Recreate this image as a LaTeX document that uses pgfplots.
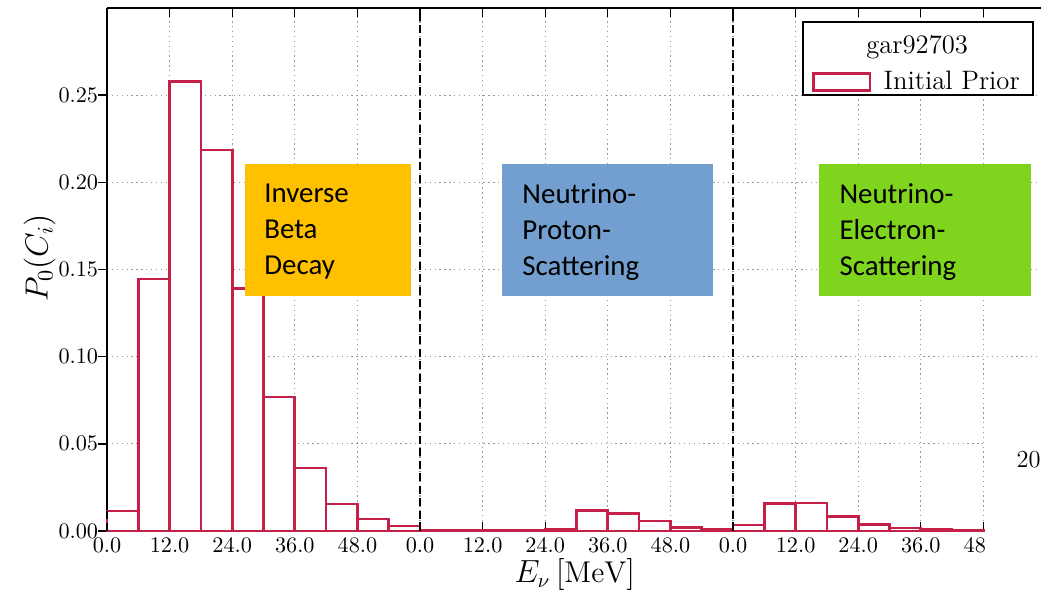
\documentclass[border=0pt]{standalone}
\usepackage{fontspec}
\usepackage{pgfplots}
\pgfplotsset{compat=1.18}
\newfontfamily\calibri{Carlito}
\definecolor{barred}{RGB}{197,32,72}
\definecolor{ibdorange}{RGB}{255,192,0}
\definecolor{npblue}{RGB}{114,159,207}
\definecolor{negreen}{RGB}{127,212,30}
\definecolor{gridgray}{RGB}{150,150,150}
\begin{document}
\begin{tikzpicture}
\begin{axis}[
  scale only axis, width=420.3pt, height=235.35pt,
  xmin=0, xmax=179.04, ymin=0, ymax=0.30,
  clip=false,
  axis y line*=left,
  axis line style={black, line width=0.8pt},
  every axis y label/.style={at={(axis description cs:-0.072,0.522)}, rotate=90, anchor=center, font=\fontsize{14}{16}\selectfont},
  every axis x label/.style={at={(axis description cs:0.501,-0.084)}, anchor=center, font=\fontsize{13.5}{16}\selectfont},
  xlabel={$E_\nu\,[\mathrm{MeV}]$},
  ylabel={$P_0(C_i)$},
  xtick={0,12,24,36,48,60,72,84,96,108,120,132,144,156,168},
  xticklabels={0.0,12.0,24.0,36.0,48.0,0.0,12.0,24.0,36.0,48.0,0.0,12.0,24.0,36.0,48.0},
  ytick={0,0.05,0.10,0.15,0.20,0.25},
  yticklabel style={/pgf/number format/.cd, fixed, fixed zerofill, precision=2, /tikz/.cd, xshift=-0.5pt},
  xticklabel style={yshift=0.6pt},
  tick label style={font=\fontsize{10}{12}\selectfont},
  tick align=inside, major tick length=4.27pt,
  tick style={black, line width=0.6pt},
  y tick style={xshift=-4.27pt},
  grid=major,
  major grid style={gridgray, line width=0.5pt, dash pattern=on 0.6pt off 1.6pt},
  legend style={draw=none, fill=none, at={(0.754,0.8585)}, anchor=west, inner sep=0pt,
    font=\fontsize{12}{14}\selectfont,
    /tikz/every odd column/.append style={column sep=3.5pt}},
]
\addplot[ybar interval, draw=barred, fill=white, line width=1.2pt,
  legend image code/.code={\draw[draw=barred, fill=white, line width=1.3pt] (0pt,-4pt) rectangle (25.6pt,4pt);}]
coordinates {
 (0,0.0115) (6,0.1445) (12,0.258) (18,0.2185) (24,0.139) (30,0.0768) (36,0.0361) (42,0.0155) (48,0.0069) (54,0.0028)
 (60,0.0003) (66,0.0005) (72,0.0005) (78,0.0005) (84,0.0012) (90,0.0117) (96,0.0102) (102,0.0057) (108,0.0020) (114,0.0008)
 (120,0.0035) (126,0.0158) (132,0.0161) (138,0.0085) (144,0.0039) (150,0.0018) (156,0.0009) (162,0.0004) (168,0)
};
\addlegendentry{Initial Prior}
\addplot[black, line width=1.25pt, dash pattern=on 3.6pt off 2pt, forget plot] coordinates {(0,0) (0,0.30)};
\addplot[black, line width=1.25pt, dash pattern=on 3.6pt off 2pt, forget plot] coordinates {(60,0) (60,0.30)};
\addplot[black, line width=1.25pt, dash pattern=on 3.6pt off 2pt, forget plot] coordinates {(120,0) (120,0.30)};
% annotation boxes
\fill[ibdorange] (axis cs:26.45,0.1347) rectangle (axis cs:58.27,0.2104);
\node[anchor=north west, align=left, inner sep=0pt, font=\calibri\fontsize{13}{16.2}\selectfont]
  at ([xshift=8.55pt,yshift=-8.55pt]axis cs:26.45,0.2104) {Inverse\\Beta\\Decay};
\fill[npblue] (axis cs:75.72,0.1347) rectangle (axis cs:116.17,0.2104);
\node[anchor=north west, align=left, inner sep=0pt, font=\calibri\fontsize{13}{16.2}\selectfont]
  at ([xshift=9pt,yshift=-8.55pt]axis cs:75.72,0.2104) {Neutrino-\\Proton-\\Scattering};
\fill[negreen] (axis cs:136.5,0.1347) rectangle (axis cs:177.1,0.2104);
\node[anchor=north west, align=left, inner sep=0pt, font=\calibri\fontsize{13}{16.2}\selectfont]
  at ([xshift=9pt,yshift=-8.55pt]axis cs:136.5,0.2104) {Neutrino-\\Electron-\\Scattering};
% cropped region at the right
\fill[white] (axis cs:168.35,-0.06) rectangle (axis cs:185,0.075);
\node[font=\fontsize{11}{13}\selectfont, anchor=east, inner sep=0pt] at (axis cs:179.04,0.0407) {20};
% legend frame and title
\draw[black, line width=0.6pt, fill=white] (axis cs:133.4,0.2919) rectangle (axis cs:177.5,0.25);
\node[font=\fontsize{12}{14}\selectfont] at (axis cs:155.3,0.2775) {gar92703};
\end{axis}
\pgfresetboundingbox
\path[use as bounding box] ([xshift=-48.15pt,yshift=-26.1pt]current axis.south west) rectangle ([yshift=3.6pt]current axis.north east);
\end{tikzpicture}
\end{document}
